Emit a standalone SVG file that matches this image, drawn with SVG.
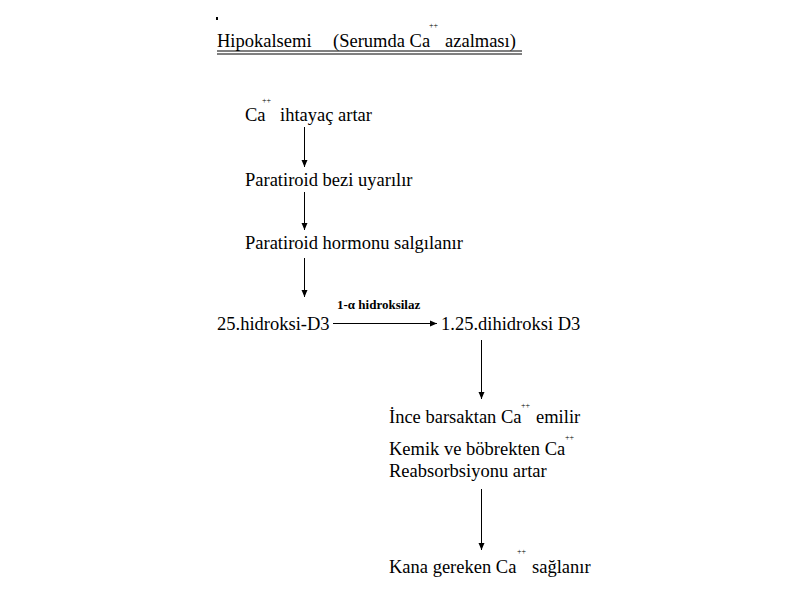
<svg xmlns="http://www.w3.org/2000/svg" width="800" height="600" viewBox="0 0 800 600">
<defs>
<marker id="ah" markerWidth="8" markerHeight="8" refX="7" refY="4" orient="auto" markerUnits="userSpaceOnUse">
<path d="M0,1 L7,4 L0,7 Z" fill="#000"/>
</marker>
<style>
.c{stroke:#000;stroke-width:1;fill:none;marker-end:url(#ah)}
</style>
</defs>
<rect width="800" height="600" fill="#fff"/>
<g font-family="Liberation Serif" fill="#000" font-size="18.5">
<g id="title">
<rect x="216" y="17" width="2" height="3" fill="#000"/>
<text x="217" y="47">Hipokalsemi</text>
<text x="333" y="47">(Serumda Ca</text>
<text x="429" y="28" font-size="8">++</text>
<text x="445" y="47">azalması)</text>
<line x1="217" y1="51" x2="522" y2="51" stroke="#000"/>
<line x1="217" y1="54" x2="522" y2="54" stroke="#000"/>
</g>
<g id="n1"><text x="245" y="121">Ca</text><text x="262" y="103" font-size="8">++</text><text x="280" y="121">ihtayaç artar</text></g>
<g id="n2"><text x="245" y="186">Paratiroid bezi uyarılır</text></g>
<g id="n3"><text x="245" y="249">Paratiroid hormonu salgılanır</text></g>
<g id="n4"><text x="217" y="330">25.hidroksi-D3</text></g>
<g id="n5"><text x="441" y="330">1.25.dihidroksi D3</text></g>
<g id="n6">
<text x="389" y="423">İnce barsaktan Ca</text><text x="521" y="408" font-size="8">++</text><text x="536" y="423">emilir</text>
<text x="389" y="455">Kemik ve böbrekten Ca</text><text x="565" y="440" font-size="8">++</text>
<text x="389" y="477">Reabsorbsiyonu artar</text>
</g>
<g id="n7"><text x="389" y="573">Kana gereken Ca</text><text x="517" y="554" font-size="8">++</text><text x="532" y="573">sağlanır</text></g>
<g id="connectors">
<line class="c" x1="304.5" y1="127" x2="304.5" y2="167"/>
<line class="c" x1="304.5" y1="192" x2="304.5" y2="230"/>
<line class="c" x1="304.5" y1="258" x2="304.5" y2="297"/>
<line class="c" x1="333" y1="323.5" x2="437" y2="323.5"/>
<text x="337" y="309" font-size="13" font-weight="bold">1-α hidroksilaz</text>
<line class="c" x1="481.5" y1="340" x2="481.5" y2="399"/>
<line class="c" x1="481.5" y1="489" x2="481.5" y2="550"/>
</g>
</g>
</svg>
